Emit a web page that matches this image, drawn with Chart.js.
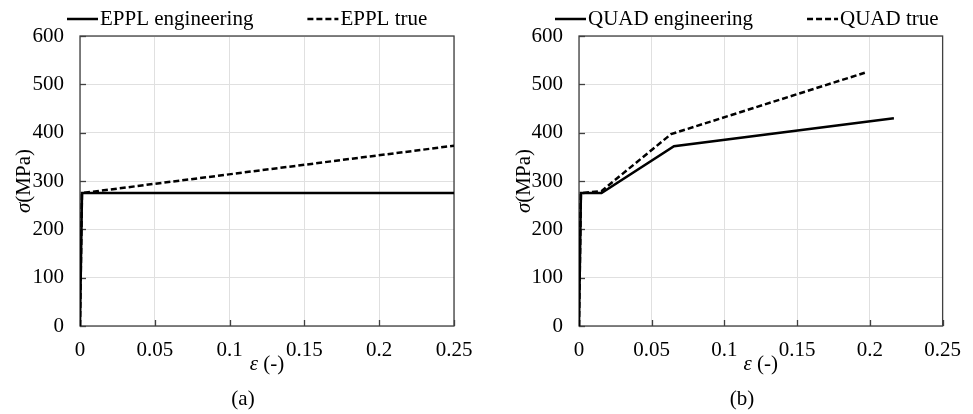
<!DOCTYPE html>
<html>
<head>
<meta charset="utf-8">
<script src="https://cdn.jsdelivr.net/npm/chart.js@4.4.0/dist/chart.umd.min.js"></script>
<style>
  html, body { margin: 0; padding: 0; background: #fff; }
  #wrap { position: relative; width: 973px; height: 414px; }
  .box { position: absolute; top: 0; height: 414px; }
  #boxA { left: 0; width: 486px; }
  #boxB { left: 486px; width: 487px; }
</style>
</head>
<body>
<div id="wrap">
  <div class="box" id="boxA"><canvas id="chartA" width="486" height="414"></canvas></div>
  <div class="box" id="boxB"><canvas id="chartB" width="487" height="414"></canvas></div>
</div>
<script>
// tick labels
const xTickLabels = ['0', '0.05', '0.1', '0.15', '0.2', '0.25'];
const yTickLabels = ['0', '100', '200', '300', '400', '500', '600'];

// (a) EPPL model
const epplEngStrain = [0, 0.00133, 0.25];
const epplEngStress = [0, 275, 275];
const epplTrueStrain = [0, 0.00133, 0.25];
const epplTrueStress = [0, 275, 373];

// (b) QUAD model
const quadEngStrain = [0, 0.00133, 0.0155, 0.0653, 0.2165];
const quadEngStress = [0, 275, 275, 372, 430];
const quadTrueStrain = [0, 0.00133, 0.0154, 0.0633, 0.1965];
const quadTrueStress = [0, 275, 279, 397, 524];

const FONT = '"Liberation Serif", "Times New Roman", serif';
const FS = 21;
const DASH = [6, 3];

function pts(xs, ys) {
  return xs.map((x, i) => ({ x: x, y: ys[i] }));
}

// frame, inner ticks, legend, axis titles and caption
const decor = {
  id: 'decor',
  beforeDatasetsDraw(chart, args, opts) {
    const { ctx, chartArea: a, scales } = chart;
    ctx.save();
    ctx.strokeStyle = '#404040';
    ctx.lineWidth = 1.3;
    scales.x.ticks.forEach(t => {
      const px = Math.round(scales.x.getPixelForValue(t.value)) + 0.5;
      ctx.beginPath(); ctx.moveTo(px, a.bottom); ctx.lineTo(px, a.bottom - 6); ctx.stroke();
    });
    scales.y.ticks.forEach(t => {
      const py = Math.round(scales.y.getPixelForValue(t.value)) + 0.5;
      ctx.beginPath(); ctx.moveTo(a.left, py); ctx.lineTo(a.left + 6, py); ctx.stroke();
    });
    ctx.strokeRect(a.left, a.top, a.width, a.height);
    ctx.restore();
  },
  afterDraw(chart, args, opts) {
    const { ctx, chartArea: a } = chart;
    ctx.save();
    ctx.fillStyle = '#000';
    ctx.textBaseline = 'middle';

    // legend
    let lx = opts.legendX;
    const ly = 19;
    chart.data.datasets.forEach(ds => {
      ctx.strokeStyle = '#000';
      ctx.lineWidth = 2.5;
      ctx.setLineDash(ds.borderDash || []);
      ctx.beginPath(); ctx.moveTo(lx, ly); ctx.lineTo(lx + 31, ly); ctx.stroke();
      ctx.setLineDash([]);
      ctx.font = FS + 'px ' + FONT;
      ctx.textAlign = 'left';
      ctx.fillText(ds.label, lx + 33, ly);
      lx += 33 + ctx.measureText(ds.label).width + 54;
    });

    // mixed italic/normal text helper
    function mixed(parts, cx, cy) {
      let total = 0;
      parts.forEach(p => { ctx.font = p[1] + FS + 'px ' + FONT; total += ctx.measureText(p[0]).width; });
      let x = cx - total / 2;
      ctx.textAlign = 'left';
      parts.forEach(p => {
        ctx.font = p[1] + FS + 'px ' + FONT;
        ctx.fillText(p[0], x, cy);
        x += ctx.measureText(p[0]).width;
      });
    }

    // y title
    ctx.save();
    ctx.translate(opts.yTitleX, (a.top + a.bottom) / 2);
    ctx.rotate(-Math.PI / 2);
    mixed([['σ', 'italic '], ['(MPa)', '']], 0, 0);
    ctx.restore();

    // x title
    mixed([['ε ', 'italic '], ['(-)', '']], (a.left + a.right) / 2, 364);

    // caption
    ctx.font = FS + 'px ' + FONT;
    ctx.textAlign = 'center';
    ctx.fillText(opts.caption, opts.captionX, 399);
    ctx.restore();
  }
};

function makeChart(id, sets, cfg) {
  return new Chart(document.getElementById(id), {
    type: 'scatter',
    data: {
      datasets: sets.map(s => ({
        label: s.label,
        data: s.data,
        showLine: true,
        borderColor: '#000',
        backgroundColor: '#000',
        borderWidth: 2.5,
        borderDash: s.dash,
        pointRadius: 0,
        pointHoverRadius: 0,
        tension: 0
      }))
    },
    options: {
      responsive: false,
      animation: false,
      layout: { padding: { left: 0, right: cfg.padRight, top: 36, bottom: 0 } },
      plugins: {
        legend: { display: false },
        tooltip: { enabled: false },
        decor: cfg
      },
      scales: {
        x: {
          type: 'linear',
          min: 0, max: 0.25,
          afterFit: s => { s.height = 88; },
          border: { display: false },
          grid: { color: '#e0e0e0', lineWidth: 1, drawTicks: false },
          ticks: {
            stepSize: 0.05,
            padding: 12,
            color: '#000',
            font: { family: FONT, size: FS },
            callback: (v, i) => xTickLabels[i]
          }
        },
        y: {
          type: 'linear',
          min: 0, max: 600,
          afterFit: s => { s.width = cfg.yWidth; },
          border: { display: false },
          grid: { color: '#e0e0e0', lineWidth: 1, drawTicks: false },
          ticks: {
            stepSize: 100,
            padding: 16,
            color: '#000',
            font: { family: FONT, size: FS },
            callback: (v, i) => yTickLabels[i]
          }
        }
      }
    },
    plugins: [decor]
  });
}

makeChart('chartA', [
  { label: 'EPPL engineering', data: pts(epplEngStrain, epplEngStress), dash: [] },
  { label: 'EPPL true', data: pts(epplTrueStrain, epplTrueStress), dash: DASH }
], { yWidth: 80, padRight: 32, legendX: 67, yTitleX: 24, caption: '(a)', captionX: 243 });

makeChart('chartB', [
  { label: 'QUAD engineering', data: pts(quadEngStrain, quadEngStress), dash: [] },
  { label: 'QUAD true', data: pts(quadTrueStrain, quadTrueStress), dash: DASH }
], { yWidth: 93, padRight: 20, legendX: 69, yTitleX: 38, caption: '(b)', captionX: 256 });
</script>
</body>
</html>
